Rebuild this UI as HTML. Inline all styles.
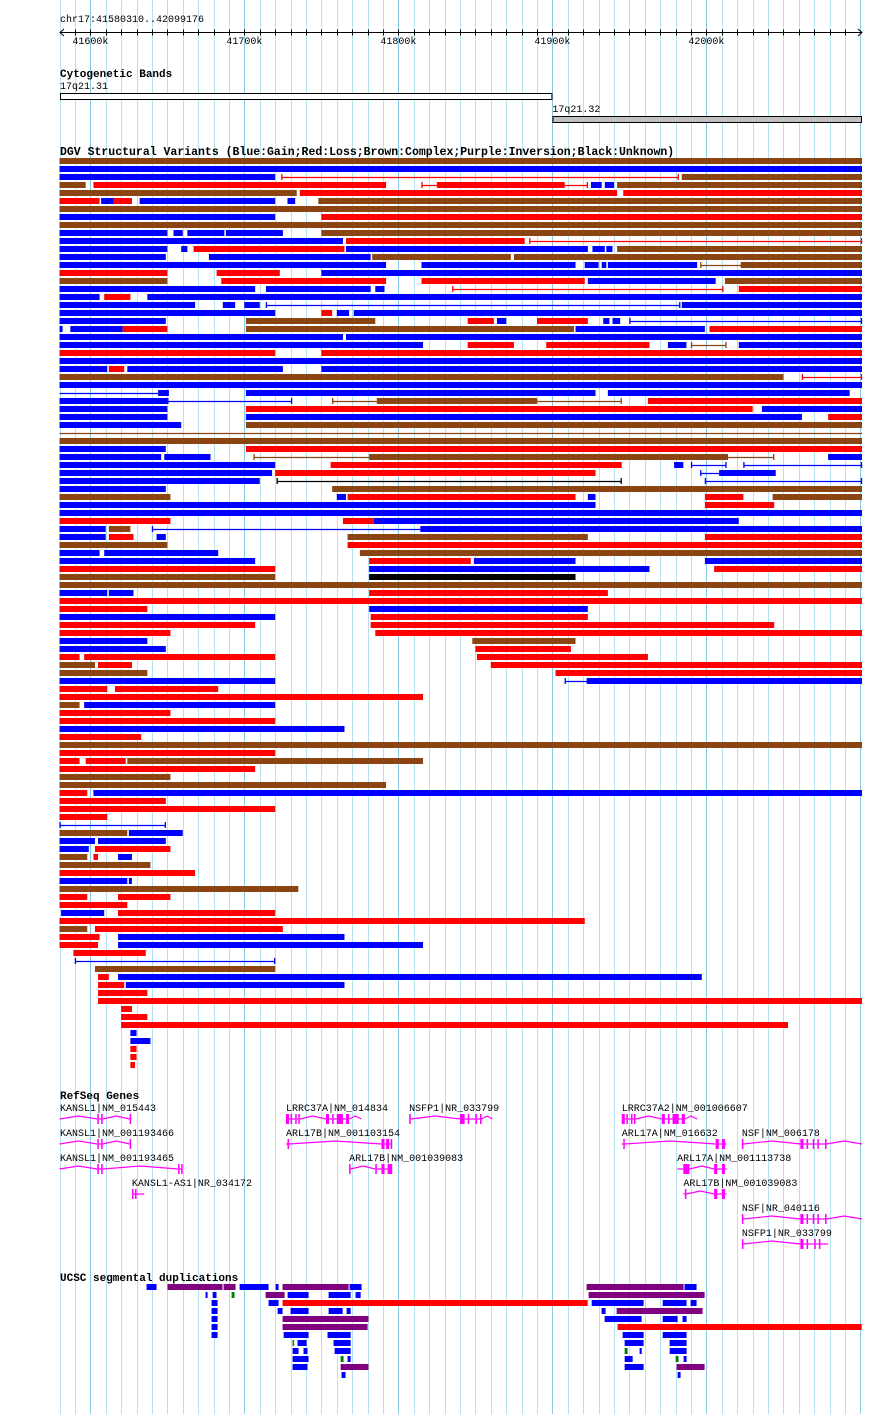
<!DOCTYPE html>
<html><head><meta charset="utf-8"><style>
html,body{margin:0;padding:0;background:#fff;}
svg{display:block;}
text{font-family:"Liberation Mono","DejaVu Sans Mono",monospace;}
</style></head>
<body>
<svg id="chart" width="890" height="1414" viewBox="0 0 890 1414" xmlns="http://www.w3.org/2000/svg">
<g id="grid"></g>
<g id="axis">
<text x="60" y="22" font-size="10">chr17:41580310..42099176</text>
</g>
<g id="cyto">
<text x="60" y="77" font-size="11" font-weight="bold">Cytogenetic Bands</text>
</g>
<g id="dgv">
<text x="60" y="155" font-size="11.5" font-weight="bold">DGV Structural Variants (Blue:Gain;Red:Loss;Brown:Complex;Purple:Inversion;Black:Unknown)</text>
</g>
<g id="genes">
<text x="60" y="1099" font-size="11" font-weight="bold">RefSeq Genes</text>
</g>
<g id="segdup">
<text x="60" y="1281" font-size="11" font-weight="bold">UCSC segmental duplications</text>
</g>
</svg>
<script>
// ---- data (genomic positions in kb) ----
const viewStart = 41580.3;
const viewEnd = 42101;
const tickLabels = ["41600k","41700k","41800k","41900k","42000k"];
const tickValues = [41600,41700,41800,41900,42000];
const cytoBands = [["17q21.31",41580.3,41900,"#ffffff"],["17q21.32",41900,42101,"#c0c0c0"]];
// rows of segments: [start, end, kind(b=bar,l=capped line,t=thin line), color]
const dgvRows = [
[[41580,42101,'b','n']],
[[41580,42101,'b','b']],
[[41580,41720,'b','b'],[41724,41982,'l','r'],[41984,42101,'b','n']],
[[41580,41597,'b','n'],[41602,41792,'b','r'],[41815,41923,'l','r'],[41825,41908,'b','r'],[41925,41932,'b','b'],[41934,41940,'b','b'],[41942,42101,'b','n']],
[[41580,41734,'b','n'],[41736,41942,'b','r'],[41946,42101,'b','r']],
[[41580,41606,'b','r'],[41607,41615,'b','b'],[41615,41627,'b','r'],[41632,41720,'b','b'],[41728,41733,'b','b'],[41748,42101,'b','n']],
[[41580,42101,'b','n']],
[[41580,41720,'b','b'],[41750,42101,'b','r']],
[[41580,42101,'b','n']],
[[41580,41650,'b','b'],[41654,41660,'b','b'],[41663,41687,'b','b'],[41688,41725,'b','b'],[41750,42101,'b','n']],
[[41580,41764,'b','b'],[41766,41882,'b','r'],[41885,42101,'l','r']],
[[41580,41650,'b','b'],[41659,41663,'b','b'],[41667,41765,'b','r'],[41766,41923,'b','b'],[41926,41934,'b','b'],[41935,41939,'b','b'],[41942,42101,'b','n']],
[[41580,41649,'b','b'],[41677,41782,'b','b'],[41783,41873,'b','n'],[41875,42101,'b','n']],
[[41580,41792,'b','b'],[41815,41915,'b','b'],[41921,41930,'b','b'],[41932,41935,'b','b'],[41936,41994,'b','b'],[41996,42023,'l','n'],[42023,42101,'b','n']],
[[41580,41650,'b','r'],[41682,41723,'b','r'],[41750,42101,'b','b']],
[[41580,41650,'b','n'],[41685,41792,'b','r'],[41815,41921,'b','r'],[41923,42006,'b','b'],[42012,42101,'b','n']],
[[41580,41707,'b','b'],[41714,41782,'b','b'],[41785,41791,'b','b'],[41835,42011,'l','r'],[42021,42101,'b','r']],
[[41580,41606,'b','b'],[41609,41626,'b','r'],[41637,42101,'b','b']],
[[41580,41668,'b','b'],[41686,41694,'b','b'],[41700,41710,'b','b'],[41714,41983,'l','b'],[41984,42101,'b','b']],
[[41580,41720,'b','b'],[41750,41757,'b','r'],[41760,41768,'b','b'],[41771,42101,'b','b']],
[[41580,41649,'b','b'],[41701,41785,'b','n'],[41845,41862,'b','r'],[41864,41870,'b','b'],[41890,41923,'b','r'],[41933,41937,'b','b'],[41939,41944,'b','b'],[41950,42101,'l','b']],
[[41580,41582,'b','b'],[41587,41621,'b','b'],[41621,41650,'b','r'],[41701,41914,'b','n'],[41915,41999,'b','b'],[42002,42101,'b','r']],
[[41580,41764,'b','b'],[41766,42101,'b','b']],
[[41580,41816,'b','b'],[41845,41875,'b','r'],[41896,41963,'b','r'],[41975,41987,'b','b'],[41990,42013,'l','n'],[42021,42101,'b','b']],
[[41580,41720,'b','r'],[41750,42101,'b','r']],
[[41580,42101,'b','b']],
[[41580,41611,'b','b'],[41612,41622,'b','r'],[41624,41725,'b','b'],[41750,42101,'b','b']],
[[41580,42050,'b','n'],[42062,42101,'l','r']],
[[41580,42101,'b','b']],
[[41580,41644,'t','b'],[41644,41651,'b','b'],[41701,41928,'b','b'],[41936,42093,'b','b']],
[[41580,41650,'b','b'],[41650,41731,'l','b'],[41757,41945,'l','n'],[41786,41890,'b','n'],[41962,42101,'b','r']],
[[41580,41650,'b','b'],[41701,42030,'b','r'],[42036,42101,'b','b']],
[[41580,41650,'b','b'],[41701,42062,'b','b'],[42079,42101,'b','r']],
[[41580,41659,'b','b'],[41701,42101,'b','n']],
[[41580,42101,'t','n']],
[[41580,42101,'b','n']],
[[41580,41649,'b','b'],[41701,42101,'b','r']],
[[41580,41646,'b','b'],[41648,41678,'b','b'],[41706,42044,'l','n'],[41781,42014,'b','n'],[42079,42101,'b','b']],
[[41580,41720,'b','b'],[41756,41945,'b','r'],[41979,41985,'b','b'],[41990,42013,'l','b'],[42024,42101,'l','b']],
[[41580,41718,'b','b'],[41720,41928,'b','r'],[41996,42009,'l','b'],[42009,42045,'b','b']],
[[41580,41710,'b','b'],[41721,41945,'l','k'],[41999,42101,'l','b']],
[[41580,41649,'b','b'],[41757,42101,'b','n']],
[[41580,41652,'b','n'],[41760,41766,'b','b'],[41767,41915,'b','r'],[41923,41928,'b','b'],[41999,42024,'b','r'],[42043,42101,'b','n']],
[[41580,41928,'b','b'],[41999,42044,'b','r']],
[[41580,42101,'b','b']],
[[41580,41652,'b','r'],[41764,41784,'b','r'],[41784,42021,'b','b']],
[[41580,41610,'b','b'],[41612,41626,'b','n'],[41640,41815,'l','b'],[41815,42101,'b','b']],
[[41580,41610,'b','b'],[41612,41628,'b','r'],[41643,41649,'b','b'],[41767,41923,'b','n'],[41999,42101,'b','r']],
[[41580,41650,'b','n'],[41767,42101,'b','r']],
[[41580,41606,'b','b'],[41609,41683,'b','b'],[41775,42101,'b','n']],
[[41580,41707,'b','b'],[41781,41847,'b','r'],[41849,41915,'b','b'],[41999,42101,'b','b']],
[[41580,41720,'b','r'],[41781,41963,'b','b'],[42005,42101,'b','r']],
[[41580,41720,'b','n'],[41781,41915,'b','k']],
[[41580,42101,'b','n']],
[[41580,41611,'b','b'],[41612,41628,'b','b'],[41781,41936,'b','r']],
[[41580,42101,'b','r']],
[[41580,41637,'b','r'],[41781,41923,'b','b']],
[[41580,41720,'b','b'],[41782,41923,'b','r']],
[[41580,41707,'b','r'],[41782,42044,'b','r']],
[[41580,41652,'b','r'],[41785,42101,'b','r']],
[[41580,41637,'b','b'],[41848,41915,'b','n']],
[[41580,41649,'b','b'],[41850,41912,'b','r']],
[[41580,41593,'b','r'],[41596,41720,'b','r'],[41851,41962,'b','r']],
[[41580,41603,'b','n'],[41605,41627,'b','r'],[41860,42101,'b','r']],
[[41580,41637,'b','n'],[41902,42101,'b','r']],
[[41580,41720,'b','b'],[41908,41923,'l','b'],[41923,42101,'b','b']],
[[41580,41611,'b','r'],[41616,41683,'b','r']],
[[41580,41816,'b','r']],
[[41580,41593,'b','n'],[41596,41720,'b','b']],
[[41580,41652,'b','r']],
[[41580,41720,'b','r']],
[[41580,41765,'b','b']],
[[41580,41633,'b','r']],
[[41580,42101,'b','n']],
[[41580,41720,'b','r']],
[[41580,41593,'b','r'],[41597,41623,'b','r'],[41624,41816,'b','n']],
[[41580,41707,'b','r']],
[[41580,41652,'b','n']],
[[41580,41792,'b','n']],
[[41580,41598,'b','r'],[41602,42101,'b','b']],
[[41580,41649,'b','r']],
[[41580,41720,'b','r']],
[[41580,41611,'b','r']],
[[41580,41649,'l','b']],
[[41580,41624,'b','n'],[41625,41660,'b','b']],
[[41580,41603,'b','b'],[41605,41649,'b','b']],
[[41580,41599,'b','b'],[41603,41652,'b','r']],
[[41580,41598,'b','n'],[41602,41605,'b','r'],[41618,41627,'b','b']],
[[41580,41639,'b','n']],
[[41580,41668,'b','r']],
[[41580,41624,'b','b'],[41625,41627,'b','b']],
[[41580,41735,'b','n']],
[[41580,41598,'b','r'],[41618,41652,'b','r']],
[[41580,41624,'b','r']],
[[41581,41609,'b','b'],[41618,41720,'b','r']],
[[41580,41921,'b','r']],
[[41580,41598,'b','n'],[41603,41725,'b','r']],
[[41580,41606,'b','r'],[41618,41765,'b','b']],
[[41580,41605,'b','r'],[41618,41816,'b','b']],
[[41589,41636,'b','r']],
[[41590,41720,'l','b']],
[[41603,41720,'b','n']],
[[41605,41612,'b','r'],[41618,41997,'b','b']],
[[41605,41622,'b','r'],[41623,41765,'b','b']],
[[41605,41637,'b','r']],
[[41605,42101,'b','r']],
[[41620,41627,'b','r']],
[[41620,41637,'b','r']],
[[41620,42053,'b','r']],
[[41626,41630,'b','b']],
[[41626,41639,'b','b']],
[[41626,41630,'b','r']],
[[41626,41630,'b','r']],
[[41626,41629,'b','r']]
];
const geneNames = ["KANSL1|NM_015443","KANSL1|NM_001193466","KANSL1|NM_001193465","KANSL1-AS1|NR_034172","LRRC37A|NM_014834","NSFP1|NR_033799","ARL17B|NM_001103154","ARL17B|NM_001039083","LRRC37A2|NM_001006607","ARL17A|NM_016632","NSF|NM_006178","ARL17A|NM_001113738","ARL17B|NM_001039083","NSF|NR_040116","NSFP1|NR_033799"];
const geneRows = [0,1,2,3,0,0,1,2,0,1,1,2,3,4,5];
const geneSpans = [[41580,41626],[41580,41626],[41580,41659],[41627,41635],[41727,41776],[41807,41861],[41727,41796],[41768,41796],[41945,41994],[41945,42013],[42023,42101],[41981,42013],[41985,42013],[42023,42101],[42023,42079]];
const geneExons = [
[[41604.5,41605.5],[41607,41608],[41625.5,41626.5]],
[[41604.5,41605.5],[41607,41608],[41625.5,41626.5]],
[[41604.5,41605.5],[41607,41608],[41657,41658],[41659,41659.8]],
[[41627,41628],[41629,41630]],
[[41727,41729],[41730,41731],[41733,41734],[41735,41736],[41753,41755],[41757,41758],[41760,41764],[41766,41768]],
[[41807,41808],[41840,41843],[41845,41846],[41850,41851],[41853,41854]],
[[41728,41729],[41789,41791],[41792,41794],[41795,41796]],
[[41768,41769],[41785,41786],[41789,41791],[41793,41796]],
[[41945,41947],[41948,41949],[41951,41952],[41953,41954],[41971,41973],[41975,41976],[41978,41982],[41984,41986]],
[[41946,41947],[42006,42008],[42010,42012]],
[[42023,42024],[42061,42063],[42065,42066],[42069,42070],[42072,42073],[42077,42078]],
[[41985,41989],[42005,42007],[42010,42012]],
[[41986,41987],[42005,42007],[42010,42012]],
[[42023,42024],[42061,42063],[42065,42066],[42069,42070],[42072,42073],[42077,42078]],
[[42023,42024],[42061,42063],[42065,42066],[42070,42071],[42073,42074]]
];
// segmental duplications: [row, start, end, color]
const segDups = [
[0,41636.5,41643],[0,41650.1,41685.8,'p'],[0,41686.5,41694.3,'p'],[0,41696.9,41715.7],[0,41720.3,41722.2],[0,41724.8,41767.7,'p'],[0,41768.3,41776.1],[0,41922.2,41985.2,'p'],[0,41985.8,41993.6],
[1,41674.8,41676.1],[1,41679.4,41681.9],[1,41691.7,41693.6,'g'],[1,41713.8,41726.1,'p'],[1,41728.1,41741.7],[1,41754.7,41769],[1,41772.2,41775.5],[1,41923.5,41998.8,'p'],
[2,41678.7,41682.6],[2,41715.7,41722.2],[2,41724.8,41922.9,'r'],[2,41925.5,41959.2],[2,41971.6,41987.1],[2,41989.7,41993.6],
[3,41678.7,41682.6],[3,41721.6,41724.8],[3,41730,41741.7],[3,41754.7,41763.8],[3,41766.4,41769],[3,41931.9,41934.5],[3,41941.7,41997.5,'p'],
[4,41678.7,41682.6],[4,41724.8,41780.6,'p'],[4,41933.9,41957.9],[4,41971.6,41981.3],[4,41984.5,41987.1],
[5,41678.7,41682.6],[5,41724.8,41780,'p'],[5,41942.3,42100.8,'r'],
[6,41678.7,41682.6],[6,41725.5,41741.7],[6,41754,41769],[6,41945.6,41959.2],[6,41971.6,41987.1],
[7,41731.3,41732.3,'g'],[7,41734.5,41740.4],[7,41757.9,41769],[7,41946.9,41959.2],[7,41976.1,41987.1],
[8,41731.3,41735.2],[8,41738.4,41741],[8,41758.6,41769],[8,41946.9,41948.8,'g'],[8,41956.6,41958],[8,41976.1,41987.1],
[9,41731.3,41741.7],[9,41762.5,41764.4,'g'],[9,41767,41769],[9,41946.9,41952.1],[9,41980,41981.9,'g'],[9,41985.2,41987.1],
[10,41731.3,41741],[10,41762.5,41780.6,'p'],[10,41946.9,41959.2],[10,41980.6,41998.8,'p'],
[11,41763.1,41765.7],[11,41981.3,41983.2]
];
// ---- scales ----
const X0 = 60, X1 = 862;
function x(kb){ return X0 + (kb - viewStart) * (X1 - X0) / (viewEnd - viewStart); }
const COLORS = {b:'#0000ff', r:'#ff0000', n:'#8b4513', k:'#000000', p:'#800080', g:'#008000'};
const NS = 'http://www.w3.org/2000/svg';
function mk(tag, attrs, parent){ const e = document.createElementNS(NS, tag); for (const k in attrs) e.setAttribute(k, attrs[k]); parent.appendChild(e); return e; }

// grid
const grid = document.getElementById('grid');
for (let kb = 41580; kb <= 42100; kb += 10) {
  const gx = Math.round(x(kb)) + 0.5;
  const ln = mk('line', {x1:gx, x2:gx, y1:0, y2:1414, stroke: kb % 100 === 0 ? '#88c8e0' : '#b4e2ee', 'stroke-width':1}, grid);
  
  
}
// axis
const axis = document.getElementById('axis');
const axl = mk('line', {x1:60, x2:862, y1:32.5, y2:32.5, stroke:'#000'}, axis);


const arrows = mk('path', {d:'M64 29 L60 32.5 L64 36 M858 29 L862 32.5 L858 36', stroke:'#000', fill:'none'}, axis);


for (let kb = 41590; kb <= 42090; kb += 10) {
  const tx = Math.round(x(kb)) + 0.5;
  const tk = mk('line', {x1:tx, x2:tx, y1:29.5, y2:35.5, stroke:'#000'}, axis);
  
  
}
tickValues.forEach((v, i) => {
  const t = mk('text', {x:x(v), y:44, 'font-size':10, 'text-anchor':'middle'}, axis);
  t.textContent = tickLabels[i];
  
  
});
// cytobands
const cyto = document.getElementById('cyto');
cytoBands.forEach((b, i) => {
  const y = 93 + i * 23;
  const r = mk('rect', {x:x(b[1]) + 0.5, y:y + 0.5, width:x(b[2]) - x(b[1]) - 1, height:6, fill:b[3], stroke:'#000'}, cyto);
  
  
  const t = mk('text', {x:x(b[1]), y:y - 4, 'font-size':10}, cyto);
  t.textContent = b[0];
  
  
});
// DGV
const dgv = document.getElementById('dgv');
dgvRows.forEach((row, ri) => {
  const top = 158 + ri * 8;
  row.forEach(s => {
    const x1 = x(s[0]), x2 = x(s[1]), c = COLORS[s[3]];
    let el;
    if (s[2] === 'b') {
      el = mk('rect', {x:x1, y:top, width:Math.max(1.5, x2 - x1), height:6, fill:c}, dgv);
    } else if (s[2] === 'l') {
      el = mk('path', {d:`M${x1} ${top+3.5}H${x2}M${x1+0.5} ${top}V${top+6}M${x2-0.5} ${top}V${top+6}`, stroke:c, 'stroke-width':1.3, fill:'none'}, dgv);
    } else {
      el = mk('line', {x1:x1, x2:x2, y1:top+3.5, y2:top+3.5, stroke:c, 'stroke-width':1.3}, dgv);
    }
    
    
  });
});
// genes
const genes = document.getElementById('genes');
const MAG = '#ff00ff';
geneNames.forEach((name, i) => {
  const cy = 1119 + geneRows[i] * 25;
  const sx = x(geneSpans[i][0]), ex = x(geneSpans[i][1]);
  const t = mk('text', {x:Math.max(60, sx), y:cy - 8, 'font-size':10}, genes);
  t.textContent = name;
  
  
  const ex0 = geneExons[i];
  let d = `M${sx} ${cy}`;
  let prev = sx;
  ex0.forEach(e => {
    const a = x(e[0]);
    if (a - prev > 8) { d += ` L${(prev + a) / 2} ${cy - 3} L${a} ${cy}`; } else { d += ` L${a} ${cy}`; }
    prev = x(e[1]);
    d += ` M${prev} ${cy}`;
  });
  if (ex - prev > 8) d += ` L${(prev + ex) / 2} ${cy - 3} L${ex} ${cy}`; else d += ` L${ex} ${cy}`;
  const p = mk('path', {d:d, stroke:MAG, 'stroke-width':1.2, fill:'none'}, genes);
  
  
  ex0.forEach(e => {
    const r = mk('rect', {x:x(e[0]), y:cy - 5, width:Math.max(1.5, x(e[1]) - x(e[0])), height:10, fill:MAG}, genes);
    
    
  });
});
// segmental duplications
const sd = document.getElementById('segdup');
segDups.forEach(s => {
  const r = mk('rect', {x:x(s[1]), y:1284 + s[0] * 8, width:Math.max(1.5, x(s[2]) - x(s[1])), height:6, fill:COLORS[s[3] || 'b']}, sd);
  
  
});
</script>
</body></html>
